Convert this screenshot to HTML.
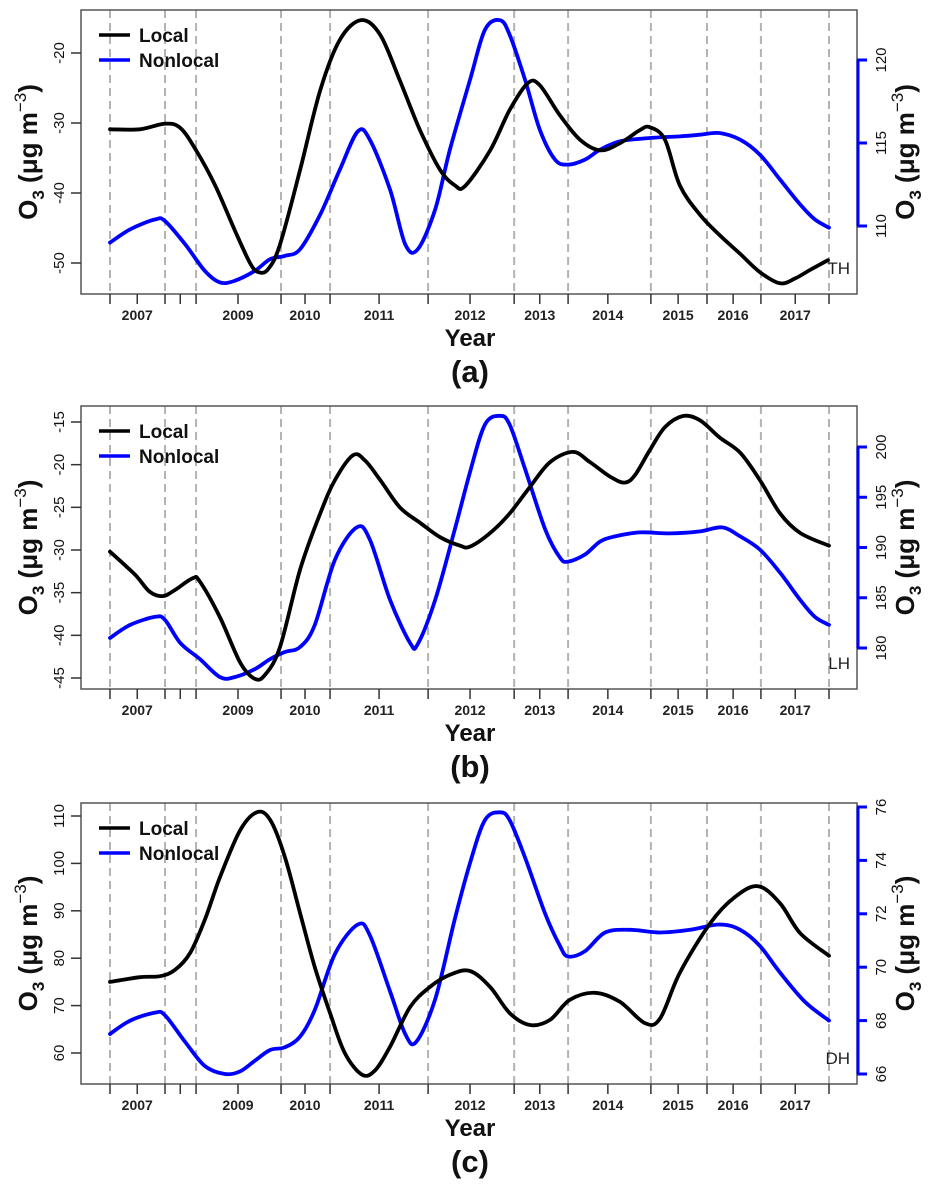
<!DOCTYPE html>
<html><head><meta charset="utf-8">
<style>
html,body{margin:0;padding:0;background:#fff;}
svg{display:block;font-family:"Liberation Sans",Arial,sans-serif;}
</style></head>
<body>
<svg id="chart" width="934" height="1187" viewBox="0 0 934 1187" xmlns="http://www.w3.org/2000/svg"></svg>
<script>
// time in months since start of plotted span (0..132)
const dashMonths = [0,10.1,15.8,31.4,40.4,58.4,74.2,84.1,99.3,109.6,119.5,132];
const tickMonths = [5,12.9,23.5,35.8,49.4,66.1,78.9,91.4,104.3,114.4,125.8];
const tickLabels = ["2007","","2009","2010","2011","2012","2013","2014","2015","2016","2017"];

// Panel a (TH)
const aLocalT = [0,5.5,10.1,12.9,15.8,19.3,22.9,25.7,27.2,29,31.2,34.9,38.6,42.2,46.1,49.6,53.2,56.9,60.6,63.3,65.2,69.8,73.4,76.7,78.9,82.6,86.3,90,93.6,97.3,99.1,101.9,104.6,108.3,111.9,115.7,119.3,123,125.8,128.5,131.8];
const aLocalV = [-30.9,-30.9,-30.1,-30.7,-33.9,-38.9,-45.3,-50,-51.3,-50.9,-47.4,-36.7,-25.3,-18.1,-15.3,-17.4,-23.9,-31,-36.7,-38.9,-39,-33.9,-28.1,-24.3,-24.6,-28.9,-32.4,-33.9,-32.9,-31,-30.6,-32.4,-38.9,-43.1,-46,-48.7,-51.3,-52.9,-52.2,-51,-49.6];
const aNonT = [0,3.7,8.3,10.1,13.8,17.4,20.2,22.9,26.6,29.4,32.1,34.9,38.6,42.2,45.5,47.7,51.4,54.2,56.5,59.7,62.4,66.1,68.8,71.6,73.4,76.2,78.9,81.7,84.1,87.2,90,93.6,99.1,104.6,108.3,111.9,115.7,119.3,123,126.7,129.4,132];
const aNonV = [109.0,109.8,110.4,110.3,108.9,107.3,106.6,106.7,107.3,108.0,108.2,108.6,110.7,113.4,115.7,115.2,112.2,108.9,108.6,111.0,114.6,118.8,121.8,122.4,121.5,118.8,115.8,114.0,113.7,114.0,114.6,115.1,115.3,115.4,115.5,115.6,115.2,114.3,112.8,111.3,110.4,109.9];
const aLeftTicks = [-20,-30,-40,-50];
const aRightTicks = [110,115,120];

// Panel b (LH)
const bLocalT = [0,4.6,7.3,9.7,11.9,15.2,16.5,20.2,23.9,26.6,28.5,31.2,34.9,38.6,41.3,44.6,46.8,49.6,53.2,56.9,60.6,64.3,66.1,69.8,73.4,77.1,80.8,85,88.1,91.8,94.5,96.4,99.1,101.9,105.2,108.3,111.9,115.7,119.3,123,126.7,132];
const bLocalV = [-30.2,-32.9,-34.9,-35.4,-34.7,-33.3,-33.7,-37.9,-43.2,-45.1,-44.6,-41.4,-32.3,-25.7,-21.8,-18.9,-19.5,-21.8,-25,-26.8,-28.5,-29.5,-29.6,-28,-25.7,-22.6,-19.7,-18.5,-19.7,-21.4,-22.1,-21.2,-18.3,-15.6,-14.3,-14.8,-16.8,-18.6,-21.8,-25.7,-28,-29.5];
const bNonT = [0,3.7,8.3,10.1,12.9,16.5,20.2,22.9,26.6,29.4,32.1,34.9,37.6,41.3,45.3,47.7,51.4,55.1,56.5,59.7,63.3,66.1,68.8,71.6,73.4,76.2,79.9,82.6,84.1,87.2,90,92.7,97.3,102.8,108.3,112.4,115.7,119.3,123,126.7,129.4,132];
const bNonV = [181.0,182.3,183.1,182.8,180.5,178.9,177.1,177.1,177.9,178.9,179.6,180.1,182.3,188.8,192.0,190.8,184.8,180.5,180.4,184.8,191.8,197.5,202.2,203.1,202.2,197.8,191.8,189.0,188.6,189.3,190.6,191.1,191.5,191.4,191.6,192.0,191.1,189.8,187.5,184.8,183.1,182.3];
const bLeftTicks = [-15,-20,-25,-30,-35,-40,-45];
const bRightTicks = [180,185,190,195,200];

// Panel c (DH)
const cLocalT = [0,5.5,9.2,11.9,14.7,17.4,20.2,23.9,27,29.4,32.1,34.9,37.6,40.4,43.1,46.3,48.7,51.4,55.1,58.7,62.4,66.1,69.8,73.4,77.1,80.8,84.4,89,93.6,98.2,101,104.6,110.2,114.7,119,123,126.7,132];
const cLocalV = [75,76,76.2,77.5,81.1,88.1,97.1,107,110.8,109.2,101.4,89.5,78.1,68.4,60,55.4,56.4,61.3,69.7,73.9,76.5,77.3,73.9,68.4,65.9,67,71.2,72.7,70.8,66.3,67.3,76.9,87.4,92.9,95.2,91.6,85.3,80.5];
const cNonT = [0,3.7,8.3,10.1,13.8,17.4,21.1,23.9,26.6,29.4,32.1,34.9,37.6,41.3,45.5,47.7,51.4,54.2,56.2,59.7,63.3,66.1,68.8,71.6,73.4,76.2,79.9,82.6,84.1,87.2,90.9,95.5,101,106.5,111.9,115.7,119.3,123,127.6,132];
const cNonV = [67.5,68.0,68.3,68.2,67.2,66.3,66.0,66.1,66.5,66.9,67.0,67.4,68.4,70.5,71.6,71.2,69.1,67.5,67.2,68.8,71.8,73.9,75.5,75.8,75.5,74.1,72.0,70.8,70.4,70.6,71.3,71.4,71.3,71.4,71.6,71.4,70.8,69.8,68.7,68.0];
const cLeftTicks = [60,70,80,90,100,110];
const cRightTicks = [66,68,70,72,74,76];

const NS = "http://www.w3.org/2000/svg";
const svg = document.getElementById('chart');
const X0 = 110, X1 = 829, BOXL = 81, BOXR = 857;
function xs(t){ return X0 + (X1 - X0) * t / 132; }
function lin(d0,d1,r0,r1){ return v => r0 + (v - d0) * (r1 - r0) / (d1 - d0); }
function mk(tag, attrs, parent){
  const e = document.createElementNS(NS, tag);
  for (const k in attrs) e.setAttribute(k, attrs[k]);
  (parent || svg).appendChild(e);
  return e;
}
function smoothPath(pts){
  let d = `M${pts[0][0].toFixed(1)},${pts[0][1].toFixed(1)}`;
  for (let i = 0; i < pts.length - 1; i++){
    const p0 = pts[Math.max(0,i-1)], p1 = pts[i], p2 = pts[i+1], p3 = pts[Math.min(pts.length-1,i+2)];
    const c1x = p1[0] + (p2[0]-p0[0])/6, c1y = p1[1] + (p2[1]-p0[1])/6;
    const c2x = p2[0] - (p3[0]-p1[0])/6, c2y = p2[1] - (p3[1]-p1[1])/6;
    d += ` C${c1x.toFixed(1)},${c1y.toFixed(1)} ${c2x.toFixed(1)},${c2y.toFixed(1)} ${p2[0].toFixed(1)},${p2[1].toFixed(1)}`;
  }
  return d;
}
function o3Title(g, x, y, name){
  const t = mk('text', {x:0, y:0, transform:`translate(${x},${y}) rotate(-90)`, 'text-anchor':'middle', 'font-size':'26', 'font-weight':'bold', fill:'#111'}, g);
  
  
  t.innerHTML = 'O<tspan font-size="17" dy="7">3</tspan><tspan dy="-7"> (μg m</tspan><tspan font-size="17" font-weight="normal" dy="-11">−3</tspan><tspan dy="11">)</tspan>';
}

const panels = [
  {id:'a', top:10, bot:294, L:[-20,53,-50,263], R:[120,60,110,226], lt:aLocalT, lv:aLocalV, nt:aNonT, nv:aNonV, lticks:aLeftTicks, rticks:aRightTicks, st:'TH', label:'(a)'},
  {id:'b', top:406, bot:689, L:[-15,422,-45,678], R:[200,447,180,648], lt:bLocalT, lv:bLocalV, nt:bNonT, nv:bNonV, lticks:bLeftTicks, rticks:bRightTicks, st:'LH', label:'(b)'},
  {id:'c', top:803, bot:1084, L:[110,816,60,1053], R:[76,807,66,1074], lt:cLocalT, lv:cLocalV, nt:cNonT, nv:cNonV, lticks:cLeftTicks, rticks:cRightTicks, st:'DH', label:'(c)'}
];

panels.forEach(p => {
  const g = mk('g', {});
  
  
  const yL = lin(p.L[0], p.L[2], p.L[1], p.L[3]);
  const yR = lin(p.R[0], p.R[2], p.R[1], p.R[3]);

  dashMonths.forEach(m => {
    const l = mk('line', {x1:xs(m), x2:xs(m), y1:p.top, y2:p.bot, stroke:'#b3b3b3', 'stroke-width':2, 'stroke-dasharray':'8,5'}, g);
    
    
  });

  const box = mk('rect', {x:BOXL, y:p.top, width:BOXR-BOXL, height:p.bot-p.top, fill:'none', stroke:'#555', 'stroke-width':1.5}, g);
  
  

  dashMonths.concat(tickMonths).forEach(m => {
    const t = mk('line', {x1:xs(m), x2:xs(m), y1:p.bot, y2:p.bot+10, stroke:'#333', 'stroke-width':1.5}, g);
    
    
  });
  tickMonths.forEach((m, i) => {
    if (!tickLabels[i]) return;
    const t = mk('text', {x:xs(m), y:p.bot+26, 'text-anchor':'middle', 'font-size':'14', 'font-weight':'bold', fill:'#222'}, g);
    
    
    t.textContent = tickLabels[i];
  });

  p.lticks.forEach(v => {
    const y = yL(v);
    const t = mk('line', {x1:71, x2:BOXL, y1:y, y2:y, stroke:'#333', 'stroke-width':1.5}, g);
    
    
    const tx = mk('text', {x:0, y:0, transform:`translate(64,${y}) rotate(-90)`, 'text-anchor':'middle', 'font-size':'15', fill:'#111'}, g);
    
    
    tx.textContent = v;
  });

  const rmin = Math.min(...p.rticks), rmax = Math.max(...p.rticks);
  const ra = mk('line', {x1:BOXR+1, x2:BOXR+1, y1:yR(rmax), y2:yR(rmin), stroke:'#0000ff', 'stroke-width':3}, g);
  
  
  p.rticks.forEach(v => {
    const y = yR(v);
    const t = mk('line', {x1:BOXR, x2:BOXR+10, y1:y, y2:y, stroke:'#0000ff', 'stroke-width':3}, g);
    
    
    const tx = mk('text', {x:0, y:0, transform:`translate(886,${y}) rotate(-90)`, 'text-anchor':'middle', 'font-size':'15', fill:'#111'}, g);
    
    
    tx.textContent = v;
  });

  const nl = mk('path', {d:smoothPath(p.nt.map((t,i)=>[xs(t), yR(p.nv[i])])), fill:'none', stroke:'#0000ff', 'stroke-width':3.8, 'stroke-linejoin':'round', 'stroke-linecap':'round'}, g);
  
  
  const ll = mk('path', {d:smoothPath(p.lt.map((t,i)=>[xs(t), yL(p.lv[i])])), fill:'none', stroke:'#000', 'stroke-width':3.8, 'stroke-linejoin':'round', 'stroke-linecap':'round'}, g);
  
  

  const lg = mk('g', {}, g);
  
  
  const ly1 = p.top + 25, ly2 = p.top + 50;
  mk('line', {x1:99, x2:130, y1:ly1, y2:ly1, stroke:'#000', 'stroke-width':3.5}, lg);
  mk('line', {x1:99, x2:130, y1:ly2, y2:ly2, stroke:'#0000ff', 'stroke-width':3.5}, lg);
  const t1 = mk('text', {x:139, y:ly1+7, 'font-size':'19', 'font-weight':'bold', fill:'#111'}, lg);
  
  
  t1.textContent = 'Local';
  const t2 = mk('text', {x:139, y:ly2+7, 'font-size':'19', 'font-weight':'bold', fill:'#111'}, lg);
  
  
  t2.textContent = 'Nonlocal';

  const st = mk('text', {x:850, y:p.bot-20, 'text-anchor':'end', 'font-size':'17', fill:'#222'}, g);
  
  
  st.textContent = p.st;

  o3Title(g, 37, (p.top+p.bot)/2, 'left-y-axis-title');
  o3Title(g, 914, (p.top+p.bot)/2, 'right-y-axis-title');
  const yr = mk('text', {x:470, y:p.bot+52, 'text-anchor':'middle', 'font-size':'24', 'font-weight':'bold', fill:'#111'}, g);
  
  
  yr.textContent = 'Year';
  const pl = mk('text', {x:470, y:p.bot+88, 'text-anchor':'middle', 'font-size':'31', 'font-weight':'bold', fill:'#111'}, g);
  
  
  pl.textContent = p.label;
});
</script>
</body></html>
